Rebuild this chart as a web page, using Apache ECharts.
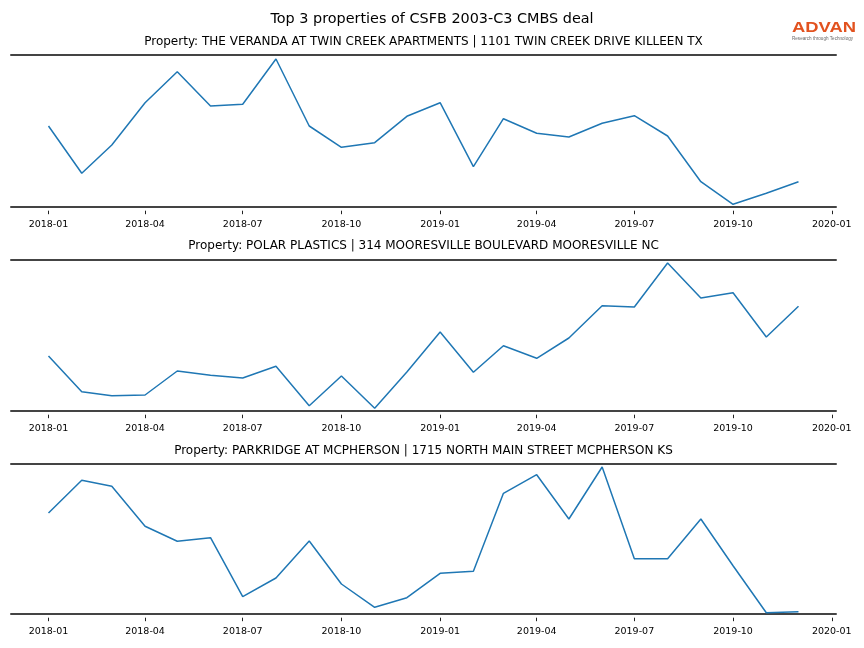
<!DOCTYPE html>
<html>
<head>
<meta charset="utf-8">
<script src="https://cdn.jsdelivr.net/npm/echarts@6/dist/echarts.min.js"></script>
<style>html,body{margin:0;padding:0;background:#fff}#c{width:864px;height:648px}</style>
</head>
<body>
<div id="c"></div>
<script>
const months = ['2018-01','2018-02','2018-03','2018-04','2018-05','2018-06','2018-07','2018-08','2018-09','2018-10','2018-11','2018-12',
                '2019-01','2019-02','2019-03','2019-04','2019-05','2019-06','2019-07','2019-08','2019-09','2019-10','2019-11','2019-12'];
const tickLabels = ['2018-01','2018-04','2018-07','2018-10','2019-01','2019-04','2019-07','2019-10','2020-01'];
const mainTitle = 'Top 3 properties of CSFB 2003-C3 CMBS deal';
const propertyTitles = [
  'Property: THE VERANDA AT TWIN CREEK APARTMENTS | 1101 TWIN CREEK DRIVE KILLEEN TX',
  'Property: POLAR PLASTICS | 314 MOORESVILLE BOULEVARD MOORESVILLE NC',
  'Property: PARKRIDGE AT MCPHERSON | 1715 NORTH MAIN STREET MCPHERSON KS'
];
const verandaValues = [80.7,33.4,61.7,104,135,100.7,102.4,147.7,80.7,59.4,64,90.4,
                       104,40,88,73.4,69.7,83.4,91,70.7,25,2.4,13.4,25];
const polarValues = [54.7,19,15,15.7,39.7,35.4,32.7,44.4,5,34.7,2.4,38.7,
                     78.7,38.4,65,52.4,72.7,105,103.7,147.7,112.7,118,73.7,104.4];
const parkridgeValues = [100.7,133.4,127.4,87.4,72.4,76,17,35.7,72.7,29.7,6.4,16,
                         40.4,42.4,120.4,139,94.7,146.7,55,55,94.7,48,1,2];
const seriesValues = [verandaValues, polarValues, parkridgeValues];
const yMax = [151.7, 151, 149.7];

function toTs(s){ const p = s.split('-'); return Date.UTC(+p[0], +p[1]-1, 1); }
const tStart = toTs(months[0]), tEnd = toTs(months[months.length-1]);
const span = tEnd - tStart;
const xMin = tStart - 0.05*span, xMax = tEnd + 0.05*span;
const tickTs = tickLabels.map(toTs);
function fmt(v){ const d = new Date(v); const m = d.getUTCMonth()+1; return d.getUTCFullYear() + '-' + (m<10?'0':'') + m; }

const FONT = 'DejaVu Sans';
const tops = [55, 259.7, 464];
const heights = [151.7, 151, 149.7];
const titleY = [42, 246.3, 450.5];
const spineStyle = {color:'#444', width:2};

const grids = [], xAxes = [], yAxes = [], series = [], graphics = [];
for (let i=0;i<3;i++){
  grids.push({left:11, width:825, top:tops[i], height:heights[i], containLabel:false});
  xAxes.push({type:'value', gridIndex:i, position:'bottom', offset:4, min:xMin, max:xMax, scale:true,
    axisLine:{show:false, onZero:false},
    axisTick:{show:true, customValues:tickTs, length:3.5, lineStyle:{color:'#222', width:1}},
    axisLabel:{show:true, customValues:tickTs, formatter:fmt, fontFamily:FONT, fontSize:9.5, color:'#000', margin:8.5},
    splitLine:{show:false}});
  xAxes.push({type:'value', gridIndex:i, position:'bottom', offset:0, min:xMin, max:xMax, scale:true,
    axisLine:{show:true, onZero:false, lineStyle:spineStyle}, axisTick:{show:false}, axisLabel:{show:false}, splitLine:{show:false}});
  xAxes.push({type:'value', gridIndex:i, position:'top', offset:0, min:xMin, max:xMax, scale:true,
    axisLine:{show:true, onZero:false, lineStyle:spineStyle}, axisTick:{show:false}, axisLabel:{show:false}, splitLine:{show:false}});
  yAxes.push({type:'value', gridIndex:i, min:0, max:yMax[i], show:false, splitLine:{show:false}});
  series.push({type:'line', xAxisIndex:i*3, yAxisIndex:i, symbol:'none', smooth:false,
    data: months.map((m,j)=>[toTs(m), seriesValues[i][j]]),
    lineStyle:{color:'#1f77b4', width:1.5}, itemStyle:{color:'#1f77b4'}, animation:false});
  graphics.push({type:'text', x:423.5, y:titleY[i], style:{text:propertyTitles[i], fontFamily:FONT, fontSize:12, fill:'#000', align:'center', verticalAlign:'middle'}});
}
graphics.push({type:'text', x:432, y:19.5, style:{text:mainTitle, fontFamily:FONT, fontSize:14.4, fill:'#000', align:'center', verticalAlign:'middle'}});
graphics.push({type:'text', x:792, y:27.5, scaleX:1.27, style:{text:'ADVAN', fontFamily:'Liberation Sans', fontWeight:'bold', fontSize:14.5, fill:'#e2521f', align:'left', verticalAlign:'middle'}});
graphics.push({type:'text', x:792, y:38.5, style:{text:'Research through Technology', fontFamily:'Liberation Sans', fontSize:4.6, fill:'#6a6a6a', align:'left', verticalAlign:'middle'}});

const chart = echarts.init(document.getElementById('c'), null, {renderer:'canvas'});
chart.setOption({
  animation:false,
  backgroundColor:'#fff',
  grid:grids, xAxis:xAxes, yAxis:yAxes, series:series, graphic:graphics
});
</script>
</body>
</html>
